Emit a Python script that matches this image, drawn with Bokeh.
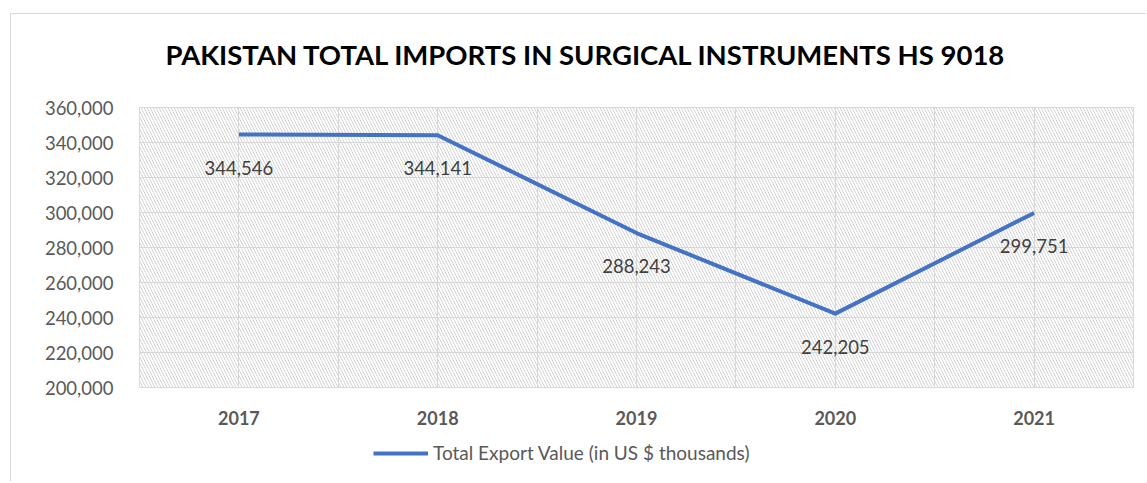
from bokeh.plotting import figure
from bokeh.layouts import column
from bokeh.models import (FixedTicker, NumeralTickFormatter, BoxAnnotation, Title,
                          Legend, LegendItem, Range1d, ColumnDataSource)
from bokeh.core.properties import value
from bokeh.embed import file_html
from bokeh.resources import INLINE

years = ["2017", "2018", "2019", "2020", "2021"]
values = [344546, 344141, 288243, 242205, 299751]
labels = ["344,546", "344,141", "288,243", "242,205", "299,751"]
y_ticks = [200000, 220000, 240000, 260000, 280000, 300000, 320000, 340000, 360000]
title_text = "PAKISTAN TOTAL IMPORTS IN SURGICAL INSTRUMENTS HS 9018"
series_name = "Total Export Value (in US $ thousands)"

FONT = "Lato"
BLUE = "#4472C4"
GRID = "#d9d9d9"

xs = list(range(len(years)))
src = ColumnDataSource(dict(x=xs, y=values, lab=labels))

p = figure(frame_width=994, frame_height=280, output_backend="svg", toolbar_location=None,
           x_range=Range1d(-0.5, len(years) - 0.5),
           y_range=Range1d(y_ticks[0], y_ticks[-1]),
           min_border_left=128, min_border_right=12, min_border_top=93, min_border_bottom=52)
p.background_fill_color = "white"
p.border_fill_color = "white"
p.outline_line_color = GRID
p.outline_line_width = 1

p.title.text = title_text
p.title.align = "left"
p.title.offset = 26
p.title.standoff = 0
p.title.text_font = FONT
p.title.text_font_style = "bold"
p.title.text_font_size = "27.5px"
p.title.text_color = "black"
# spacer between title and plot area
p.add_layout(Title(text=" ", text_font_size="1px", standoff=34), "above")

# hatch background
p.add_layout(BoxAnnotation(fill_color=None, line_color=None, hatch_pattern="\\",
                           hatch_color="#d4d4d4", hatch_scale=6, hatch_weight=1,
                           level="underlay"))

# grids
p.xgrid.ticker = FixedTicker(ticks=[i * 0.5 - 0.5 for i in range(2 * len(years) + 1)])
p.xgrid.grid_line_color = GRID
p.ygrid.ticker = FixedTicker(ticks=y_ticks)
p.ygrid.grid_line_color = GRID

# axes
p.xaxis.ticker = FixedTicker(ticks=xs)
p.xaxis.major_label_overrides = {i: y for i, y in enumerate(years)}
p.xaxis.axis_line_color = None
p.xaxis.major_tick_line_color = None
p.xaxis.minor_tick_line_color = None
p.xaxis.major_label_text_font = FONT
p.xaxis.major_label_text_font_style = "bold"
p.xaxis.major_label_text_font_size = "18px"
p.xaxis.major_label_text_color = "#595959"
p.xaxis.major_label_standoff = 17

p.yaxis.ticker = FixedTicker(ticks=y_ticks)
p.yaxis.formatter = NumeralTickFormatter(format="0,0")
p.yaxis.axis_line_color = None
p.yaxis.major_tick_line_color = None
p.yaxis.minor_tick_line_color = None
p.yaxis.major_label_text_font = FONT
p.yaxis.major_label_text_font_size = "18.5px"
p.yaxis.major_label_text_color = "#595959"
p.yaxis.major_label_standoff = 20

p.line("x", "y", source=src, line_color=BLUE, line_width=4, line_join="round")

p.text("x", "y", text="lab", source=src, text_align="center", text_baseline="middle",
       y_offset=33, text_font=value(FONT), text_font_size="18.5px", text_color="#404040")

# legend strip below the chart (its frame is aligned with the main plot frame)
p2 = figure(width=1135, height=42, output_backend="svg", toolbar_location=None,
            x_range=Range1d(0, 1), y_range=Range1d(0, 1),
            x_axis_location=None, y_axis_location=None, min_border=0)
p2.grid.visible = False
p2.outline_line_color = None
p2.background_fill_color = "white"
p2.border_fill_color = "white"
# same series, lying outside this strip's ranges, used only for the legend swatch
swatch = p2.line(x=xs, y=values, line_color=BLUE, line_width=4)
legend = Legend(items=[LegendItem(label=series_name, renderers=[swatch])],
                location=(234, 17), glyph_width=55, glyph_height=20, label_standoff=5,
                padding=0, margin=0, border_line_color=None, background_fill_alpha=0,
                label_text_font=FONT, label_text_font_size="19px", label_text_color="#595959")
p2.add_layout(legend, "center")

layout = column(p, p2, margin=(13, 0, 0, 10), spacing=0)
layout.styles = {"border-top": "1px solid #d9d9d9", "border-left": "1px solid #d9d9d9"}

open("out.html", "w").write(file_html(layout, INLINE))
